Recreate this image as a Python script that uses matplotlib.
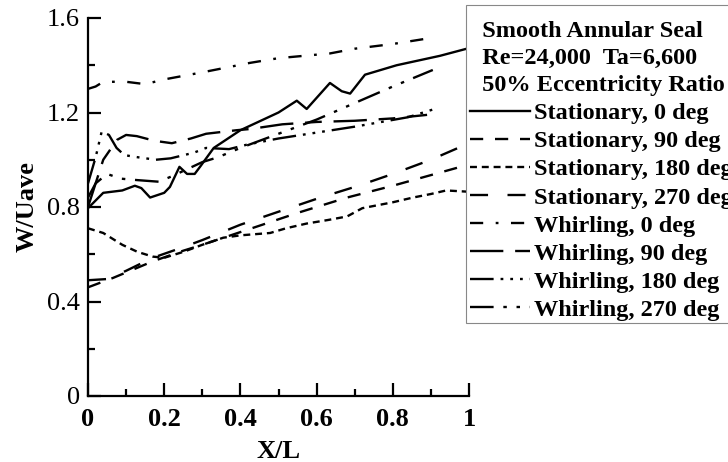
import matplotlib
matplotlib.use("Agg")
import matplotlib.pyplot as plt
from matplotlib.patches import Rectangle
from matplotlib.ticker import MultipleLocator

plt.rcParams['font.family'] = ['Liberation Serif', 'DejaVu Serif']
plt.rcParams['lines.scale_dashes'] = False

# curves (x = X/L, y = W/Uave)
s0_x = [0, 0.04, 0.09, 0.123, 0.14, 0.163, 0.2, 0.215, 0.24, 0.26, 0.28, 0.294, 0.33, 0.4, 0.5,
        0.548, 0.574, 0.635, 0.666, 0.688, 0.727, 0.81, 0.924, 0.994]
s0_y = [0.795, 0.86, 0.87, 0.89, 0.88, 0.84, 0.86, 0.885, 0.97, 0.94, 0.94, 0.97, 1.05, 1.125, 1.20,
        1.25, 1.215, 1.325, 1.29, 1.28, 1.36, 1.40, 1.44, 1.47]

s90_x = [0, 0.066, 0.17, 0.25, 0.3, 0.43, 0.55, 0.68, 0.8, 0.9, 1.0]
s90_y = [0.46, 0.50, 0.57, 0.615, 0.64, 0.71, 0.775, 0.84, 0.89, 0.935, 0.98]

s180_x = [0, 0.04, 0.09, 0.13, 0.17, 0.2, 0.25, 0.3, 0.355, 0.4, 0.478, 0.52, 0.574, 0.63, 0.68,
          0.72, 0.8, 0.853, 0.9, 0.94, 0.995]
s180_y = [0.71, 0.69, 0.64, 0.61, 0.59, 0.585, 0.61, 0.64, 0.67, 0.68, 0.69, 0.71, 0.73, 0.745, 0.76,
          0.795, 0.82, 0.84, 0.855, 0.87, 0.865]

s270_x = [0, 0.05, 0.1, 0.17, 0.25, 0.3, 0.4, 0.5, 0.61, 0.71, 0.8, 0.9, 1.0]
s270_y = [0.49, 0.495, 0.53, 0.585, 0.63, 0.66, 0.725, 0.78, 0.84, 0.89, 0.94, 1.0, 1.07]

w0_x = [0, 0.02, 0.04, 0.1, 0.15, 0.2, 0.3, 0.425, 0.5, 0.635, 0.7, 0.8, 0.898]
w0_y = [1.30, 1.31, 1.33, 1.33, 1.32, 1.34, 1.37, 1.41, 1.43, 1.45, 1.47, 1.49, 1.515]

w90_x = [0, 0.02, 0.04, 0.076, 0.1, 0.128, 0.175, 0.22, 0.27, 0.31, 0.39, 0.425, 0.51, 0.6, 0.7,
         0.8, 0.89]
w90_y = [0.80, 0.90, 1.00, 1.084, 1.105, 1.10, 1.08, 1.07, 1.09, 1.11, 1.125, 1.13, 1.15, 1.16, 1.165,
         1.175, 1.19]

w180_x = [0, 0.02, 0.036, 0.055, 0.075, 0.095, 0.12, 0.178, 0.217, 0.278, 0.31, 0.37, 0.42, 0.5, 0.6,
          0.7, 0.77, 0.84, 0.91]
w180_y = [0.90, 1.01, 1.12, 1.105, 1.05, 1.02, 1.013, 1.0, 1.006, 1.03, 1.05, 1.045, 1.065, 1.09, 1.115,
          1.14, 1.16, 1.18, 1.215]

w270_x = [0, 0.02, 0.05, 0.086, 0.128, 0.186, 0.22, 0.26, 0.3, 0.34, 0.4, 0.45, 0.5, 0.6, 0.7, 0.8, 0.905]
w270_y = [0.84, 0.90, 0.94, 0.92, 0.914, 0.907, 0.93, 0.96, 0.99, 1.01, 1.05, 1.08, 1.11, 1.17, 1.24,
          1.31, 1.38]

labels = ["Stationary, 0 deg", "Stationary, 90 deg", "Stationary, 180 deg", "Stationary, 270 deg",
          "Whirling, 0 deg", "Whirling, 90 deg", "Whirling, 180 deg", "Whirling, 270 deg"]

series = [(s0_x, s0_y), (s90_x, s90_y), (s180_x, s180_y), (s270_x, s270_y),
          (w0_x, w0_y), (w90_x, w90_y), (w180_x, w180_y), (w270_x, w270_y)]

styles = ['-',
          (0, (9.5, 8.5)),
          (0, (5, 3.5)),
          (0, (13, 14)),
          (0, (9.5, 9, 2, 9)),
          (0, (24, 8.5, 12, 8.5)),
          (0, (17, 5, 2, 5, 2, 5, 2, 5)),
          (0, (17, 7, 2.5, 7, 2.5, 7))]

W, H = 728, 462
fig = plt.figure(figsize=(W / 100, H / 100), dpi=100)
ax = fig.add_axes([88 / W, 1 - 396 / H, 381 / W, 378 / H])

for (xs, ys), lab, ls in zip(series, labels, styles):
    ax.plot(xs, ys, color='black', linestyle=ls, linewidth=1.7, label=lab)

ax.set_xlim(0, 1)
ax.set_ylim(0, 1.6)
ax.spines['top'].set_visible(False)
ax.spines['right'].set_visible(False)
ax.spines['left'].set_linewidth(1.6)
ax.spines['bottom'].set_linewidth(1.6)

ax.xaxis.set_major_locator(MultipleLocator(0.2))
ax.xaxis.set_minor_locator(MultipleLocator(0.1))
ax.yaxis.set_major_locator(MultipleLocator(0.4))
ax.yaxis.set_minor_locator(MultipleLocator(0.2))
ax.tick_params(which='major', direction='in', length=9.5, width=1.6, labelsize=19, pad=6)
ax.tick_params(axis='x', which='major', pad=9)
ax.tick_params(which='minor', direction='in', length=5, width=1.6)
ax.set_xticks([0, 0.2, 0.4, 0.6, 0.8, 1.0])
ax.set_xticklabels(["0", "0.2", "0.4", "0.6", "0.8", "1"], fontweight='bold')
ax.set_yticks([0, 0.4, 0.8, 1.2, 1.6])
ax.set_yticklabels(["0", "0.4", "0.8", "1.2", "1.6"])

ax.set_xlabel("X/L", fontsize=19, fontweight='bold', labelpad=6)
ax.set_ylabel("W/Uave", fontsize=19, fontweight='bold', labelpad=6)

# legend frame drawn separately so the text can sit where the reference has it
frame = Rectangle((466 / W, 1 - 323 / H), 300 / W, 318 / H, transform=fig.transFigure,
                  facecolor='white', edgecolor='#888888', linewidth=0.8, zorder=4)
fig.add_artist(frame)

leg = fig.legend(loc='upper left', bbox_to_anchor=(470 / W, 1 - 21 / H),
                 title="  Smooth Annular Seal\n  Re=24,000  Ta=6,600\n  50% Eccentricity Ratio",
                 title_fontproperties={'weight': 'bold', 'size': 17.5},
                 prop={'weight': 'bold', 'size': 17.5}, alignment='left',
                 frameon=False, handlelength=2.45, handletextpad=0.2, labelspacing=0.25,
                 borderpad=0, borderaxespad=0)
leg.get_title().set_linespacing(1.38)
leg.set_zorder(5)

fig.savefig("out.png", dpi=100)
